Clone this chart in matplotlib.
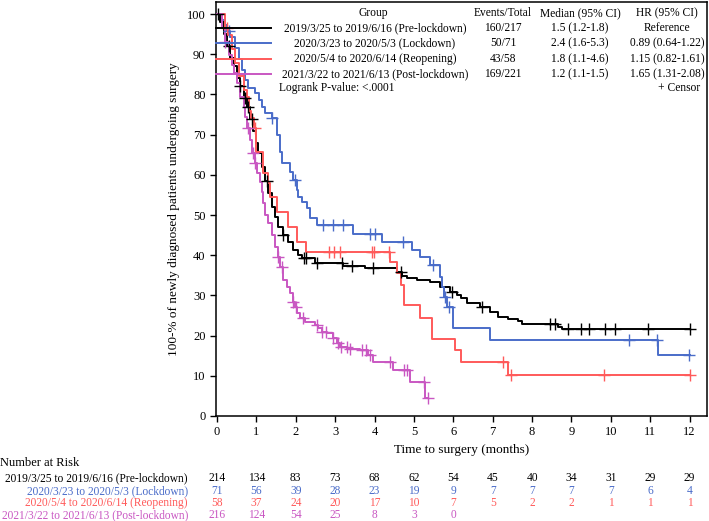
import numpy as np
import matplotlib
matplotlib.use("Agg")
import matplotlib.pyplot as plt

plt.rcParams['font.family'] = ['Liberation Serif', 'DejaVu Serif']

# ---------------- data ----------------
groups = ["2019/3/25 to 2019/6/16 (Pre-lockdown)",
          "2020/3/23 to 2020/5/3 (Lockdown)",
          "2020/5/4 to 2020/6/14 (Reopening)",
          "2021/3/22 to 2021/6/13 (Post-lockdown)"]
colors = ["#000000", "#4A6CC9", "#FF5A5A", "#C957C2"]

events_total = ["160/217", "50/71", "43/58", "169/221"]
medians = ["1.5 (1.2-1.8)", "2.4 (1.6-5.3)", "1.8 (1.1-4.6)", "1.2 (1.1-1.5)"]
hrs = ["Reference", "0.89 (0.64-1.22)", "1.15 (0.82-1.61)", "1.65 (1.31-2.08)"]

t_pre = [0, 0.08, 0.18, 0.25, 0.33, 0.43, 0.50, 0.58, 0.68, 0.76, 0.85, 0.92, 0.98, 1.04,
         1.14, 1.22, 1.30, 1.40, 1.47, 1.55, 1.68, 1.80, 1.93, 2.06, 2.15, 2.50, 3.20, 3.75,
         4.57, 4.70, 4.82, 5.08, 5.40, 5.66, 5.91, 6.10, 6.20, 6.35, 6.68, 6.93, 7.13, 7.39,
         7.64, 7.74, 8.65, 8.75]
s_pre = [100, 98, 95, 92, 89, 87, 84, 82, 79, 77, 74, 71, 68, 65.5,
         62, 58.5, 55.5, 52, 49.5, 47, 45, 43.3, 41.3, 40, 39.3, 38, 37.3, 36.9,
         35.8, 34.8, 34.3, 33.8, 33.3, 32.1, 30.8, 30.1, 29.3, 28.1, 27.1, 25.9, 24.6, 24.1,
         23.6, 22.9, 22.1, 21.6]
c_pre = [0.03, 0.30, 0.58, 0.71, 0.80, 0.89, 1.27, 1.68, 2.20, 2.25, 2.53, 3.17, 3.43,
         3.96, 4.67, 5.96, 6.73, 8.45, 8.58, 8.90, 9.25, 9.45, 9.85, 10.10, 10.95, 12.0]

t_lock = [0, 0.13, 0.20, 0.25, 0.33, 0.45, 0.55, 0.63, 0.71, 0.80, 0.97, 1.07, 1.14, 1.22,
          1.40, 1.52, 1.60, 1.65, 1.85, 1.93, 2.03, 2.06, 2.15, 2.28, 2.36, 2.54, 3.45,
          4.19, 4.95, 5.15, 5.40, 5.66, 5.72, 5.76, 5.84, 6.00, 6.93, 11.20]
s_lock = [100, 98.6, 97.2, 95.8, 94.4, 91.5, 88.7, 86, 83.6, 81.6, 80.3, 78.6, 77, 75.4,
          74.1, 70, 65.7, 63, 60.7, 58.7, 56.2, 54.5, 53.2, 51.7, 49.3, 47.5, 45.3,
          43.3, 41.3, 39.6, 37.6, 34.6, 32.1, 29.5, 27.1, 21.9, 18.9, 15.2]
c_lock = [0.30, 1.40, 1.98, 2.69, 2.94, 3.20, 3.88, 4.00, 4.72, 5.48, 5.80, 5.90,
          10.46, 11.17, 11.98]

t_reop = [0, 0.20, 0.28, 0.38, 0.46, 0.56, 0.68, 0.76, 0.81, 0.86, 0.94, 1.00, 1.17, 1.30,
          1.35, 1.52, 1.80, 2.02, 2.25, 4.39, 4.57, 4.67, 4.75, 5.15, 5.46, 6.04, 6.20, 7.39]
s_reop = [100, 96.6, 94.8, 91.4, 87.9, 84.5, 81, 79.3, 75.9, 74.1, 71.6, 65.7, 60.4, 58,
          54.5, 50.7, 47, 43.3, 40.8, 38.3, 35.6, 32.6, 27.6, 24.4, 19.2, 16.4, 13.4, 10.2]
c_reop = [0.25, 0.96, 2.85, 2.97, 3.12, 3.93, 3.99, 4.37, 7.27, 7.46, 9.82, 12.0]

t_post = [0, 0.13, 0.20, 0.30, 0.38, 0.44, 0.51, 0.58, 0.68, 0.71, 0.76, 0.84, 0.89, 0.96,
          1.02, 1.09, 1.14, 1.17, 1.22, 1.30, 1.40, 1.47, 1.55, 1.60, 1.68, 1.78, 1.85, 1.93,
          1.98, 2.03, 2.11, 2.23, 2.49, 2.56, 2.66, 2.79, 2.94, 3.04, 3.12, 3.30, 3.63, 3.83,
          3.96, 4.47, 4.90, 5.28]
s_post = [100, 96.5, 93, 89.8, 87.3, 85.3, 82.8, 79.4, 76.9, 74.4, 71.6, 68.7, 65.4, 63,
          60.4, 58.2, 55.7, 53, 50, 48, 45, 42, 39.6, 37, 33.8, 32.1, 30.6, 28.4,
          27.1, 25.6, 24.4, 23.4, 22.6, 21.9, 20.9, 20.6, 19.4, 18.2, 17.2, 16.7, 16.4, 15.2,
          13.4, 11.4, 8.5, 4.5]
c_post = [0.20, 0.79, 0.91, 0.97, 1.56, 1.65, 1.94, 2.00, 2.19, 2.53, 2.66, 2.78, 2.95,
          3.08, 3.16, 3.29, 3.38, 3.67, 3.78, 3.88, 4.39, 4.75, 4.83, 5.25, 5.36]

t_end = [12.0, 12.0, 12.0, 5.36]

risk_times = list(range(0, 13))
risk_pre = [214, 134, 83, 73, 68, 62, 54, 45, 40, 34, 31, 29, 29]
risk_lock = [71, 56, 39, 28, 23, 19, 9, 7, 7, 7, 7, 6, 4]
risk_reop = [58, 37, 24, 20, 17, 10, 7, 5, 2, 2, 1, 1, 1]
risk_post = [216, 124, 54, 25, 8, 3, 0]

curves = [(t_pre, s_pre, c_pre), (t_lock, s_lock, c_lock),
          (t_reop, s_reop, c_reop), (t_post, s_post, c_post)]
risks = [risk_pre, risk_lock, risk_reop, risk_post]

# ---------------- figure ----------------
W, H = 709, 521
fig = plt.figure(figsize=(W / 100, H / 100), dpi=100)

def fx(px):
    return px / W

def fy(py):
    return 1 - py / H

ax = fig.add_axes([fx(216), fy(416), fx(707) - fx(216), fy(2) - fy(416)])
ax.set_xlim(-0.025, 12.44)
ax.set_ylim(0, 103)

for (t, s, c), col, te in zip(curves, colors, t_end):
    tt = np.array(t + [te])
    ss = np.array(s + [s[-1]])
    ax.plot(tt, ss, drawstyle='steps-post', color=col, lw=1.4, zorder=3)
    c = np.array(c)
    idx = np.searchsorted(np.array(t), c, side='right') - 1
    cy = np.array(s)[idx]
    ax.plot(c, cy, linestyle='none', marker='+', markersize=8, mew=1.0,
            color=col, zorder=4)

ax.set_xticks(risk_times)
ax.set_yticks(range(0, 101, 10))
ax.tick_params(direction='out', length=4, width=1, labelsize=9, colors='black')
for sp in ax.spines.values():
    sp.set_linewidth(1.1)
ax.set_xlabel("Time to surgery (months)", fontsize=9.5, labelpad=4)
ax.set_ylabel("100-% of newly diagnosed patients undergoing surgery", fontsize=9.5,
              labelpad=5)

# ---------------- in-plot legend table ----------------
fs = 8.3
fig.text(fx(373), fy(13), "Group", ha='center', va='center', fontsize=fs)
fig.text(fx(503), fy(13), "Events/Total", ha='center', va='center', fontsize=fs)
fig.text(fx(580), fy(13), "Median (95% CI)", ha='center', va='center', fontsize=fs)
fig.text(fx(667), fy(13), "HR (95% CI)", ha='center', va='center', fontsize=fs)
row_y = [28, 43, 59, 74]
for i in range(4):
    y = row_y[i]
    fig.add_artist(plt.Line2D([fx(216), fx(271)], [fy(y), fy(y)], color=colors[i], lw=1.4))
    fig.text(fx(375), fy(y), groups[i], ha='center', va='center', fontsize=fs)
    fig.text(fx(503), fy(y), events_total[i], ha='center', va='center', fontsize=fs)
    fig.text(fx(580), fy(y), medians[i], ha='center', va='center', fontsize=fs)
    fig.text(fx(667), fy(y), hrs[i], ha='center', va='center', fontsize=fs)
fig.text(fx(279), fy(88), "Logrank P-value: <.0001", ha='left', va='center', fontsize=fs)
fig.text(fx(700), fy(88), "+ Censor", ha='right', va='center', fontsize=fs)

# ---------------- number at risk ----------------
fig.text(fx(0), fy(463), "Number at Risk", ha='left', va='center', fontsize=9)
risk_y = [478, 491, 503, 515]
for i in range(4):
    y = risk_y[i]
    fig.text(fx(188), fy(y), groups[i], ha='right', va='center', fontsize=fs, color=colors[i])
    for tm, n in zip(risk_times, risks[i]):
        xd = ax.transData.transform((tm, 0))[0]
        fig.text(xd / fig.dpi / fig.get_figwidth(), fy(y), str(n), ha='center',
                 va='center', fontsize=fs, color=colors[i])

fig.savefig("out.png", dpi=100)
